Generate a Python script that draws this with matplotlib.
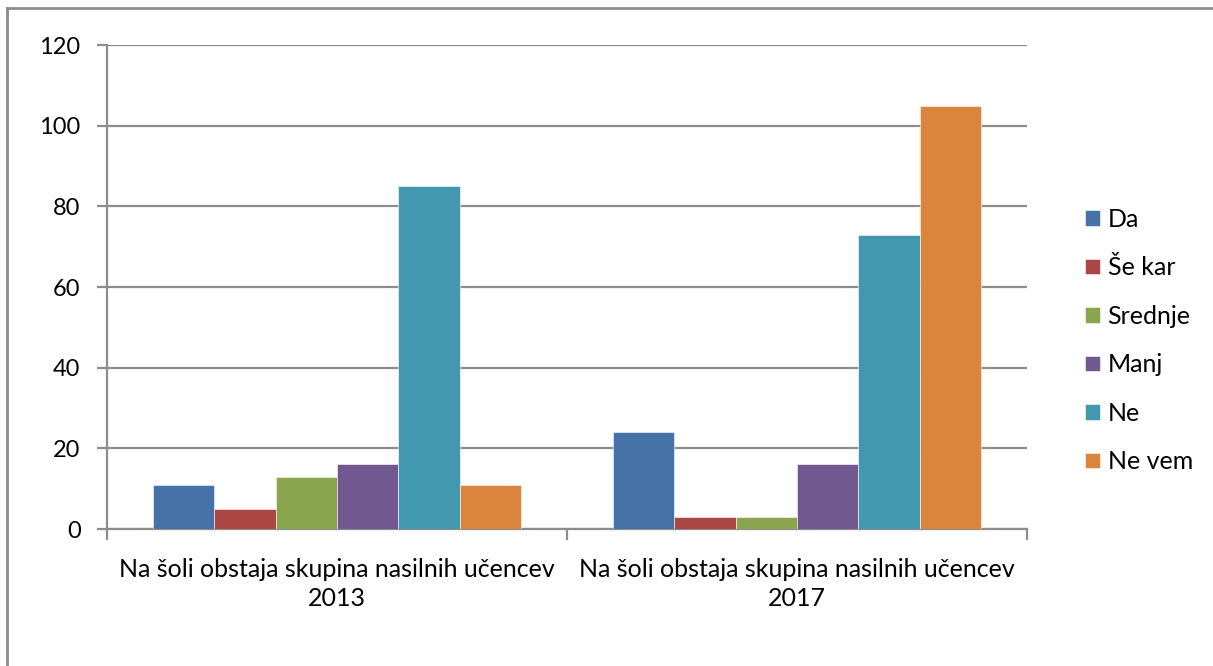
import numpy as np
import matplotlib.pyplot as plt
from matplotlib.lines import Line2D

plt.rcParams['font.family'] = ['Lato', 'DejaVu Sans']

# data
groups = ['Na šoli obstaja skupina nasilnih učencev\n2013',
          'Na šoli obstaja skupina nasilnih učencev\n2017']
answers = ['Da', 'Še kar', 'Srednje', 'Manj', 'Ne', 'Ne vem']
values_2013 = [11, 5, 13, 16, 85, 11]
values_2017 = [24, 3, 3, 16, 73, 105]
colors = ['#4572A7', '#AA4643', '#89A54E', '#71588F', '#4198AF', '#DB843D']
yticks = [0, 20, 40, 60, 80, 100, 120]

fig = plt.figure(figsize=(12.13, 6.66), dpi=100)
ax = fig.add_axes([0.0882, 0.2057, 0.7585, 0.7267])

grid_col = '#8c8c8c'
centers = np.array([0.5, 1.5])
w = 0.8 / len(answers)
data = np.array([values_2013, values_2017])
for i, (name, col) in enumerate(zip(answers, colors)):
    x = centers - 0.4 + w * i + w / 2
    ax.bar(x, data[:, i], width=w, color=col, label=name, zorder=3,
           edgecolor='white', linewidth=0.4)

ax.set_xlim(0, 2)
ax.set_ylim(0, 120)
ax.set_yticks(yticks)
ax.yaxis.grid(True, color=grid_col, linewidth=1.6, zorder=0)
ax.tick_params(axis='y', length=7, width=1.6, color=grid_col, labelsize=17, pad=12)

ax.set_xticks(centers)
ax.set_xticklabels(groups, fontsize=18, linespacing=1.3)
ax.set_xticks([0, 1, 2], minor=True)
ax.tick_params(axis='x', which='major', length=0, pad=21)
ax.tick_params(axis='x', which='minor', length=8, width=1.6, color=grid_col)

for s in ['top', 'right']:
    ax.spines[s].set_visible(False)
for s in ['left', 'bottom']:
    ax.spines[s].set_color(grid_col)
    ax.spines[s].set_linewidth(1.6)

fig.legend(*ax.get_legend_handles_labels(), loc='upper left',
           bbox_to_anchor=(0.8945, 0.688), frameon=False, fontsize=18,
           borderpad=0, borderaxespad=0, handlelength=0.6, handleheight=0.6,
           handletextpad=0.3, labelspacing=1.02)

# outer chart frame (cropped on right and bottom)
fig.add_artist(Line2D([0.0058, 0.0058], [0, 0.988], transform=fig.transFigure,
                      color=grid_col, linewidth=2))
fig.add_artist(Line2D([0.0058, 1], [0.988, 0.988], transform=fig.transFigure,
                      color=grid_col, linewidth=2))

fig.savefig('out.png', dpi=100)
